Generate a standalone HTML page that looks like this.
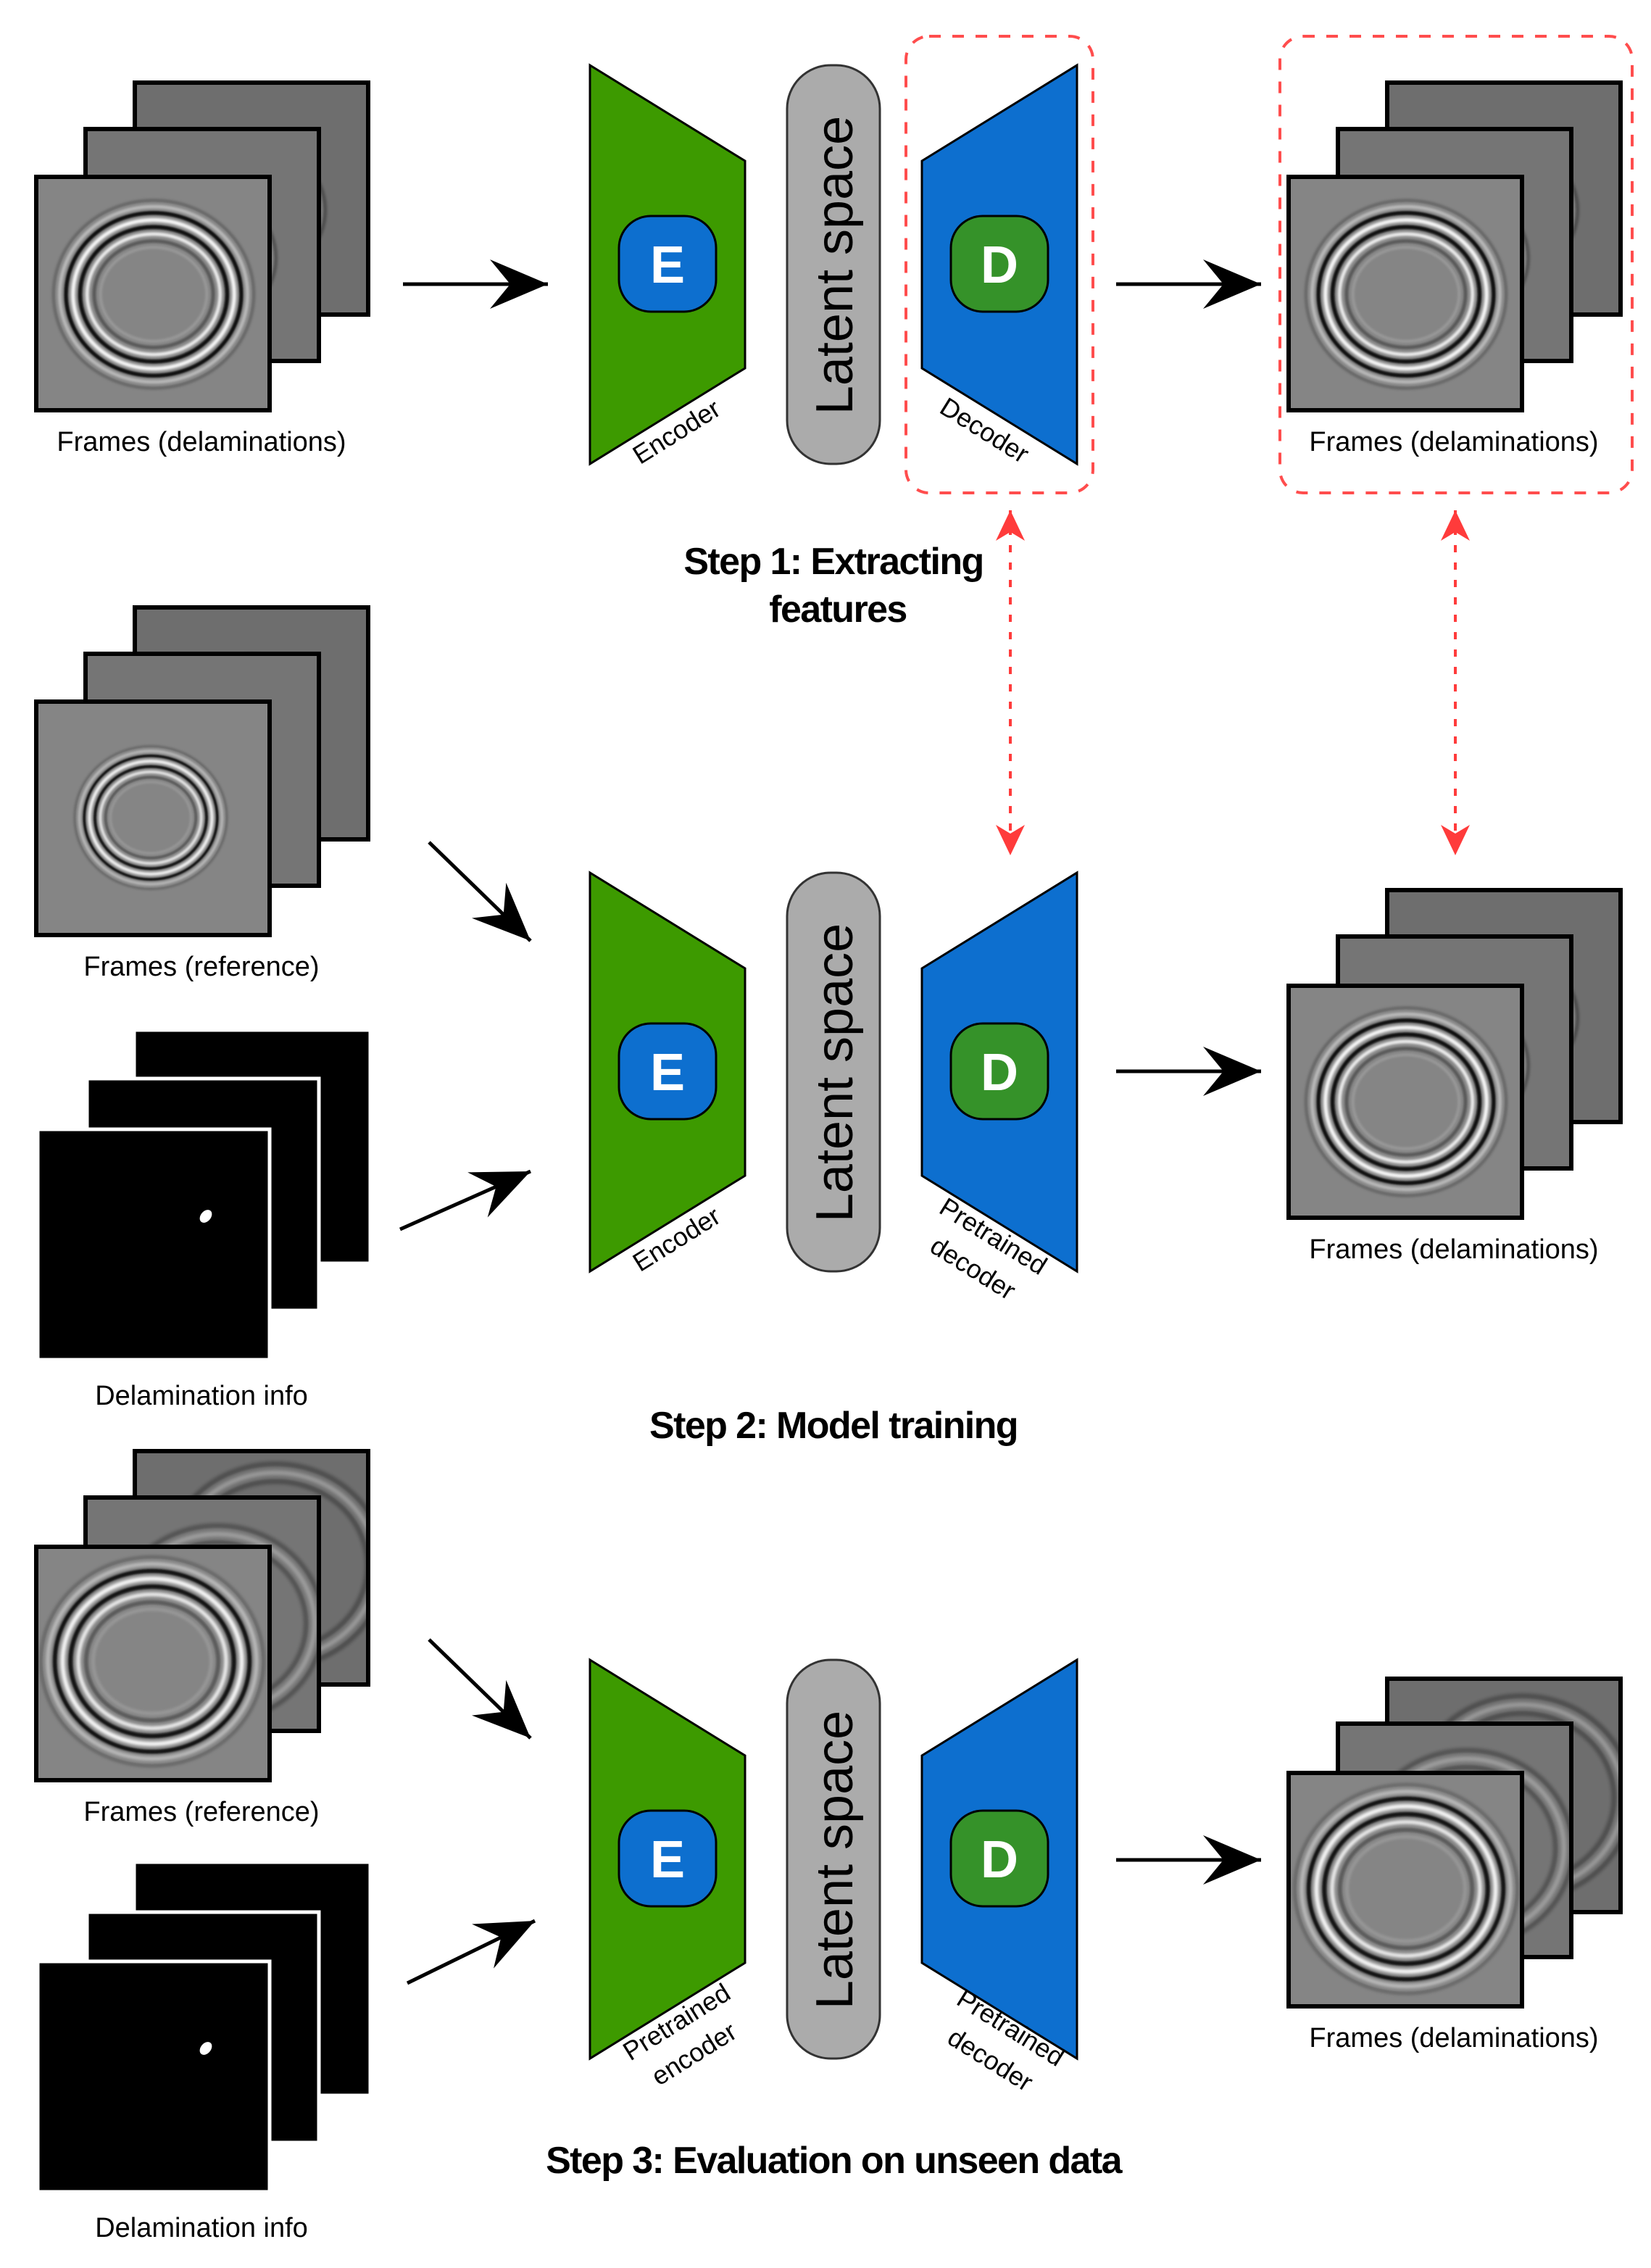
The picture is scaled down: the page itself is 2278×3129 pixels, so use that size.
<!DOCTYPE html>
<html><head><meta charset="utf-8"><style>
html,body{margin:0;padding:0;background:#fff;}
svg{display:block;}
text{font-family:"Liberation Sans",sans-serif;}
</style></head><body>
<svg width="2278" height="3129" viewBox="0 0 1139 1564.5" xmlns="http://www.w3.org/2000/svg">
<defs>
<filter id="bl" x="-10%" y="-10%" width="120%" height="120%"><feGaussianBlur stdDeviation="0.9"/></filter>
<g id="rings" filter="url(#bl)" fill="none">
  <ellipse cx="0" cy="0" rx="64" ry="60" stroke="#000" stroke-width="1.5" opacity=".3"/>
  <ellipse cx="0" cy="0" rx="60" ry="56" stroke="#fff" stroke-width="2" opacity=".5"/>
  <ellipse cx="0" cy="0" rx="56" ry="52" stroke="#000" stroke-width="2.5"/>
  <ellipse cx="0" cy="0" rx="51.5" ry="47.5" stroke="#fff" stroke-width="2.5"/>
  <ellipse cx="0" cy="0" rx="47" ry="43" stroke="#000" stroke-width="2.5"/>
  <ellipse cx="0" cy="0" rx="42.5" ry="38.5" stroke="#fff" stroke-width="2"/>
  <ellipse cx="0" cy="0" rx="38" ry="34" stroke="#000" stroke-width="1.5" opacity=".5"/>
  <ellipse cx="0" cy="0" rx="34" ry="30" stroke="#fff" stroke-width="1" opacity=".3"/>
</g>
<g id="faint" filter="url(#bl)" fill="none" opacity=".3">
  <ellipse cx="0" cy="0" rx="56" ry="52" stroke="#000" stroke-width="2.5"/>
  <ellipse cx="0" cy="0" rx="51.5" ry="47.5" stroke="#fff" stroke-width="2.5"/>
  <ellipse cx="0" cy="0" rx="47" ry="43" stroke="#000" stroke-width="2.5"/>
</g>
<marker id="ah" markerUnits="userSpaceOnUse" markerWidth="44" markerHeight="34" refX="40" refY="17" orient="auto">
  <path d="M40,17 L0,0 L14,17 L0,34 Z" fill="#000"/>
</marker>
<marker id="rh" markerUnits="userSpaceOnUse" markerWidth="24" markerHeight="24" refX="21" refY="12" orient="auto-start-reverse">
  <path d="M21,12 L0,2 L6,12 L0,22 Z" fill="#ff3b3b"/>
</marker>
<g id="ae">
  <polygon points="407,45 514,111 514,254 407,320" fill="#3d9a00" stroke="#000" stroke-width="1.5"/>
  <rect x="427" y="149" width="67" height="66" rx="22" fill="#0d6fcf" stroke="#000" stroke-width="1.5"/>
  <text x="460.5" y="195" font-size="36" font-weight="bold" fill="#fff" text-anchor="middle">E</text>
  <rect x="543" y="45" width="64" height="275" rx="30" fill="#ababab" stroke="#333" stroke-width="1.5"/>
  <text transform="translate(588,183) rotate(-90)" font-size="36" text-anchor="middle" fill="#000">Latent space</text>
  <polygon points="636,111 743,45 743,320 636,254" fill="#0d6fcf" stroke="#000" stroke-width="1.5"/>
  <rect x="656" y="149" width="67" height="66" rx="22" fill="#359229" stroke="#000" stroke-width="1.5"/>
  <text x="689.5" y="195" font-size="36" font-weight="bold" fill="#fff" text-anchor="middle">D</text>
</g>
</defs>
<rect width="1139" height="1564.5" fill="#fff"/>

<!-- Row 1 input frames -->
<g>
  <svg x="93" y="57" width="161" height="160" overflow="hidden"><rect width="161" height="160" fill="#6e6e6e"/><g transform="translate(81,88) scale(.9)"><use href="#faint"/></g></svg>
  <rect x="93" y="57" width="161" height="160" fill="none" stroke="#000" stroke-width="3"/>
  <svg x="59" y="89" width="161" height="160" overflow="hidden"><rect width="161" height="160" fill="#757575"/><g transform="translate(81,89) scale(.9)"><use href="#faint"/></g></svg>
  <rect x="59" y="89" width="161" height="160" fill="none" stroke="#000" stroke-width="3"/>
  <rect x="25" y="122" width="161" height="161" fill="#858585" stroke="#000" stroke-width="3"/>
  <g transform="translate(106,203) scale(1.08)"><use href="#rings"/></g>
</g>
<text x="139" y="311" font-size="19" text-anchor="middle">Frames (delaminations)</text>
<line x1="278" y1="196" x2="378" y2="196" stroke="#000" stroke-width="2.5" marker-end="url(#ah)"/>
<use href="#ae"/>
<text transform="translate(470,303) rotate(-32)" font-size="18" text-anchor="middle">Encoder</text>
<text transform="translate(676,302) rotate(32)" font-size="18" text-anchor="middle">Decoder</text>
<rect x="625" y="25" width="129" height="315" rx="16" fill="none" stroke="#ff4d4d" stroke-width="2" stroke-dasharray="8,8"/>
<line x1="770" y1="196" x2="870" y2="196" stroke="#000" stroke-width="2.5" marker-end="url(#ah)"/>
<g>
  <svg x="957" y="57" width="161" height="160" overflow="hidden"><rect width="161" height="160" fill="#6e6e6e"/><g transform="translate(81,88) scale(.9)"><use href="#faint"/></g></svg>
  <rect x="957" y="57" width="161" height="160" fill="none" stroke="#000" stroke-width="3"/>
  <svg x="923" y="89" width="161" height="160" overflow="hidden"><rect width="161" height="160" fill="#757575"/><g transform="translate(81,89) scale(.9)"><use href="#faint"/></g></svg>
  <rect x="923" y="89" width="161" height="160" fill="none" stroke="#000" stroke-width="3"/>
  <rect x="889" y="122" width="161" height="161" fill="#858585" stroke="#000" stroke-width="3"/>
  <g transform="translate(970,203) scale(1.08)"><use href="#rings"/></g>
</g>
<text x="1003" y="311" font-size="19" text-anchor="middle">Frames (delaminations)</text>
<rect x="883" y="25" width="243" height="315" rx="16" fill="none" stroke="#ff4d4d" stroke-width="2" stroke-dasharray="8,8"/>
<text x="575" y="396" font-size="26" font-weight="bold" text-anchor="middle" letter-spacing="-0.8">Step 1: Extracting</text>
<text x="578" y="429" font-size="26" font-weight="bold" text-anchor="middle" letter-spacing="-0.8">features</text>
<line x1="697" y1="352" x2="697" y2="590" stroke="#ff3b3b" stroke-width="2" stroke-dasharray="5,7" marker-start="url(#rh)" marker-end="url(#rh)"/>
<line x1="1004" y1="352" x2="1004" y2="590" stroke="#ff3b3b" stroke-width="2" stroke-dasharray="5,7" marker-start="url(#rh)" marker-end="url(#rh)"/>

<!-- Row 2 -->
<g>
  <svg x="93" y="419" width="161" height="160" overflow="hidden"><rect width="161" height="160" fill="#6e6e6e"/><g transform="translate(81,71) scale(.75)"><use href="#faint"/></g></svg>
  <rect x="93" y="419" width="161" height="160" fill="none" stroke="#000" stroke-width="3"/>
  <svg x="59" y="451" width="161" height="160" overflow="hidden"><rect width="161" height="160" fill="#757575"/><g transform="translate(81,74) scale(.75)"><use href="#faint"/></g></svg>
  <rect x="59" y="451" width="161" height="160" fill="none" stroke="#000" stroke-width="3"/>
  <rect x="25" y="484" width="161" height="161" fill="#858585" stroke="#000" stroke-width="3"/>
  <g transform="translate(104,564) scale(.82)"><use href="#rings"/></g>
</g>
<text x="139" y="673" font-size="19" text-anchor="middle">Frames (reference)</text>
<g>
  <rect x="93" y="711" width="162" height="160" fill="#000" stroke="#fff" stroke-width="1.5"/>
  <rect x="60" y="744" width="160" height="160" fill="#000" stroke="#fff" stroke-width="2.5"/>
  <rect x="26" y="779" width="160" height="159" fill="#000" stroke="#fff" stroke-width="2.5"/>
  <ellipse cx="142" cy="839" rx="3.5" ry="5" transform="rotate(40 142 839)" fill="#fff"/>
</g>
<text x="139" y="969" font-size="19" text-anchor="middle">Delamination info</text>
<line x1="296" y1="581" x2="366" y2="649" stroke="#000" stroke-width="2.5" marker-end="url(#ah)"/>
<line x1="276" y1="848" x2="366" y2="808" stroke="#000" stroke-width="2.5" marker-end="url(#ah)"/>
<use href="#ae" transform="translate(0,557)"/>
<text transform="translate(470,860) rotate(-32)" font-size="18" text-anchor="middle">Encoder</text>
<text transform="translate(682,858) rotate(32)" font-size="18" text-anchor="middle">Pretrained</text>
<text transform="translate(668,880) rotate(32)" font-size="18" text-anchor="middle">decoder</text>
<line x1="770" y1="739" x2="870" y2="739" stroke="#000" stroke-width="2.5" marker-end="url(#ah)"/>
<g>
  <svg x="957" y="614" width="161" height="160" overflow="hidden"><rect width="161" height="160" fill="#6e6e6e"/><g transform="translate(81,88) scale(.9)"><use href="#faint"/></g></svg>
  <rect x="957" y="614" width="161" height="160" fill="none" stroke="#000" stroke-width="3"/>
  <svg x="923" y="646" width="161" height="160" overflow="hidden"><rect width="161" height="160" fill="#757575"/><g transform="translate(81,89) scale(.9)"><use href="#faint"/></g></svg>
  <rect x="923" y="646" width="161" height="160" fill="none" stroke="#000" stroke-width="3"/>
  <rect x="889" y="680" width="161" height="160" fill="#858585" stroke="#000" stroke-width="3"/>
  <g transform="translate(970,760) scale(1.08)"><use href="#rings"/></g>
</g>
<text x="1003" y="868" font-size="19" text-anchor="middle">Frames (delaminations)</text>
<text x="575" y="992" font-size="26" font-weight="bold" text-anchor="middle" letter-spacing="-0.8">Step 2: Model training</text>

<!-- Row 3 -->
<g>
  <svg x="93" y="1001" width="161" height="161" overflow="hidden"><rect width="161" height="161" fill="#6e6e6e"/><g transform="translate(97,79) scale(1.35)"><use href="#faint"/></g></svg>
  <rect x="93" y="1001" width="161" height="161" fill="none" stroke="#000" stroke-width="3"/>
  <svg x="59" y="1033" width="161" height="161" overflow="hidden"><rect width="161" height="161" fill="#757575"/><g transform="translate(91,87) scale(1.3)"><use href="#faint"/></g></svg>
  <rect x="59" y="1033" width="161" height="161" fill="none" stroke="#000" stroke-width="3"/>
  <rect x="25" y="1067" width="161" height="161" fill="#858585" stroke="#000" stroke-width="3"/>
  <g transform="translate(105,1146) scale(1.2)"><use href="#rings"/></g>
</g>
<text x="139" y="1256" font-size="19" text-anchor="middle">Frames (reference)</text>
<g>
  <rect x="93" y="1285" width="162" height="160" fill="#000" stroke="#fff" stroke-width="1.5"/>
  <rect x="60" y="1319" width="160" height="159" fill="#000" stroke="#fff" stroke-width="2.5"/>
  <rect x="26" y="1353" width="160" height="159" fill="#000" stroke="#fff" stroke-width="2.5"/>
  <ellipse cx="142" cy="1413" rx="3.5" ry="5" transform="rotate(40 142 1413)" fill="#fff"/>
</g>
<text x="139" y="1543" font-size="19" text-anchor="middle">Delamination info</text>
<line x1="296" y1="1131" x2="366" y2="1199" stroke="#000" stroke-width="2.5" marker-end="url(#ah)"/>
<line x1="281" y1="1368" x2="369" y2="1325" stroke="#000" stroke-width="2.5" marker-end="url(#ah)"/>
<use href="#ae" transform="translate(0,1100)"/>
<text transform="translate(470,1400) rotate(-32)" font-size="18" text-anchor="middle">Pretrained</text>
<text transform="translate(482,1422) rotate(-32)" font-size="18" text-anchor="middle">encoder</text>
<text transform="translate(694,1404) rotate(32)" font-size="18" text-anchor="middle">Pretrained</text>
<text transform="translate(680,1426) rotate(32)" font-size="18" text-anchor="middle">decoder</text>
<line x1="770" y1="1283" x2="870" y2="1283" stroke="#000" stroke-width="2.5" marker-end="url(#ah)"/>
<g>
  <svg x="957" y="1158" width="161" height="161" overflow="hidden"><rect width="161" height="161" fill="#6e6e6e"/><g transform="translate(93,82) scale(1.35)"><use href="#faint"/></g></svg>
  <rect x="957" y="1158" width="161" height="161" fill="none" stroke="#000" stroke-width="3"/>
  <svg x="923" y="1189" width="161" height="161" overflow="hidden"><rect width="161" height="161" fill="#757575"/><g transform="translate(89,86) scale(1.3)"><use href="#faint"/></g></svg>
  <rect x="923" y="1189" width="161" height="161" fill="none" stroke="#000" stroke-width="3"/>
  <rect x="889" y="1223" width="161" height="161" fill="#858585" stroke="#000" stroke-width="3"/>
  <g transform="translate(970,1303) scale(1.2)"><use href="#rings"/></g>
</g>
<text x="1003" y="1412" font-size="19" text-anchor="middle">Frames (delaminations)</text>
<text x="575" y="1499" font-size="26" font-weight="bold" text-anchor="middle" letter-spacing="-0.8">Step 3: Evaluation on unseen data</text>
</svg>
</body></html>
